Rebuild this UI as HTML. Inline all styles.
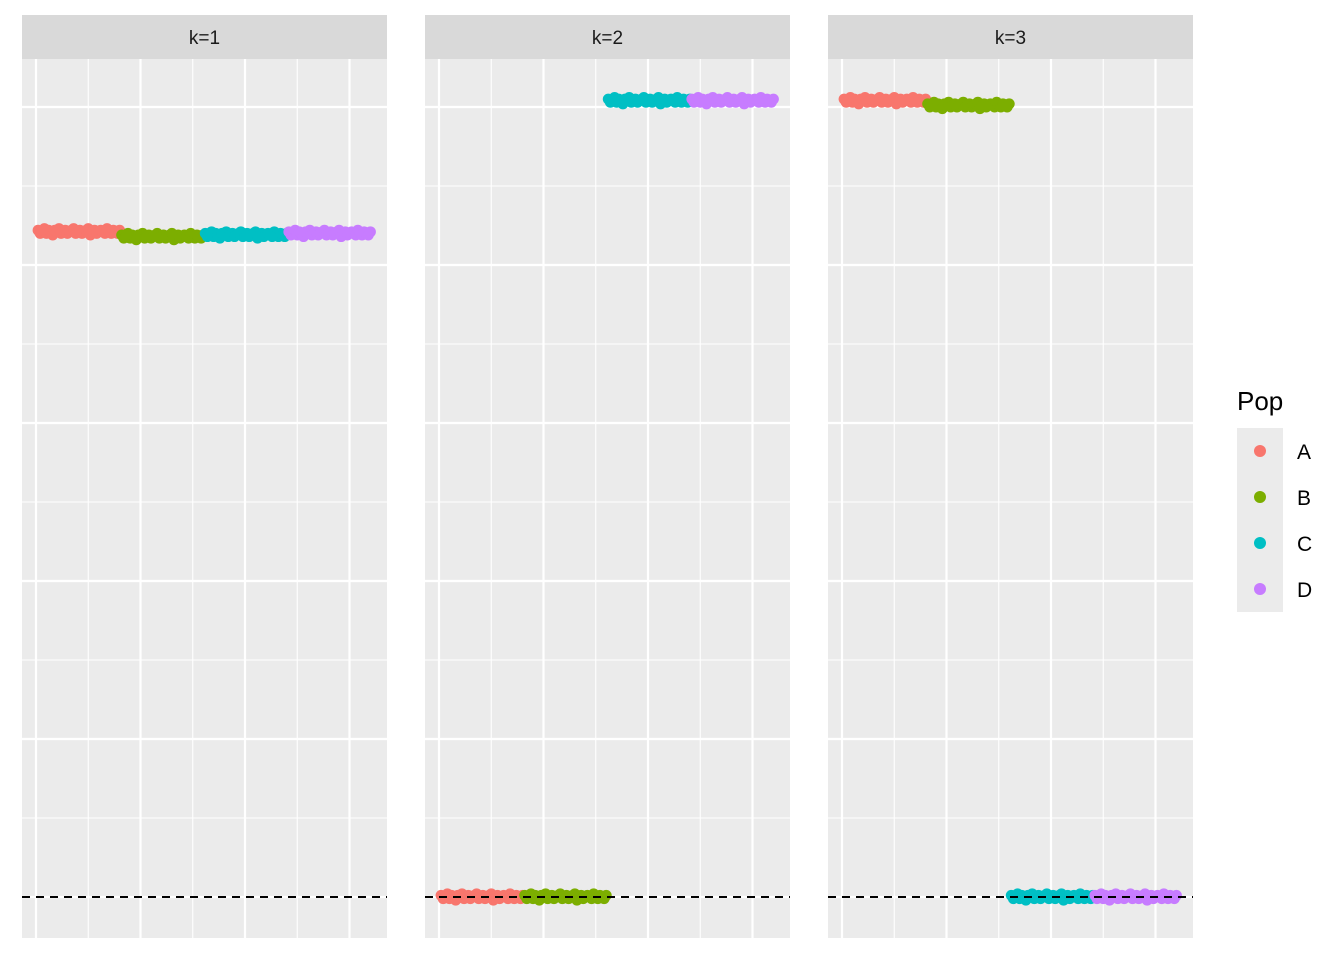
<!DOCTYPE html>
<html><head><meta charset="utf-8"><style>
body{margin:0;background:#fff;font-family:"Liberation Sans",sans-serif;}
</style></head><body>
<svg id="chart" width="1344" height="960" xmlns="http://www.w3.org/2000/svg" font-family="Liberation Sans, sans-serif"></svg>
<script>
const facets = ["k=1","k=2","k=3"];
const pops = ["A","B","C","D"];
const popColors = ["#F8766D","#7CAE00","#00BFC4","#C77CFF"];
const levelsK1 = [4.21, 4.18, 4.19, 4.20];
const levelsK2 = [0.00, 0.00, 5.04, 5.04];
const levelsK3 = [5.04, 5.01, 0.00, 0.00];
const jitter = [0.01,-0.01,0.00,0.02,-0.01,0.01,0.00,-0.02,0.01,0.00,0.02,-0.01,0.00,0.01,-0.01,0.00,0.01,0.02,-0.01,0.00,0.01,-0.01,0.00,0.01,0.02,-0.02,0.00,0.01,-0.01,0.00,0.01,0.00,-0.01,0.02,0.00,-0.01,0.01,0.00,-0.01,0.01];
const perPop = 40;
const xTicks = [0,50,100,150];
const xMinor = [25,75,125];
const yTicks = [0,1,2,3,4,5];
const yMinor = [0.5,1.5,2.5,3.5,4.5];
const levels = [levelsK1, levelsK2, levelsK3];

const svgEl = document.getElementById('chart');
const NS = "http://www.w3.org/2000/svg";
function mk(tag, attrs, parent){const e=document.createElementNS(NS,tag);for(const k in attrs)e.setAttribute(k,attrs[k]);(parent||svgEl).appendChild(e);return e;}
const panelX = [22,425,828], panelW = 365, plotTop = 59, plotBottom = 938;
const yScale = v => 897 - v*158;
const xScale = (p, v) => panelX[p] + 14 + v*2.09;

facets.forEach((f,p)=>{
  const g = mk('g',{});
  
  
  const strip = mk('rect',{x:panelX[p],y:15,width:panelW,height:44,fill:'#D9D9D9'},g);
  
  
  const st = mk('text',{x:panelX[p]+panelW/2,y:44,'text-anchor':'middle','font-size':19,fill:'#1A1A1A'},g);
  st.textContent=f;
  
  
  const bg = mk('rect',{x:panelX[p],y:plotTop,width:panelW,height:plotBottom-plotTop,fill:'#EBEBEB'},g);
  
  
  yMinor.forEach(v=>mk('line',{x1:panelX[p],x2:panelX[p]+panelW,y1:yScale(v),y2:yScale(v),stroke:'#fff','stroke-width':1.1},g));
  xMinor.forEach(v=>mk('line',{x1:xScale(p,v),x2:xScale(p,v),y1:plotTop,y2:plotBottom,stroke:'#fff','stroke-width':1.1},g));
  yTicks.forEach(v=>mk('line',{x1:panelX[p],x2:panelX[p]+panelW,y1:yScale(v),y2:yScale(v),stroke:'#fff','stroke-width':2.2},g));
  xTicks.forEach(v=>mk('line',{x1:xScale(p,v),x2:xScale(p,v),y1:plotTop,y2:plotBottom,stroke:'#fff','stroke-width':2.2},g));
  pops.forEach((pop,i)=>{
    for(let j=0;j<perPop;j++){
      const idx = i*perPop + j + 1;
      const c = mk('circle',{cx:xScale(p,idx),cy:yScale(levels[p][i]+jitter[j]),r:5.5,fill:popColors[i]},g);
      
      
    }
  });
  const dl = mk('line',{x1:panelX[p],x2:panelX[p]+panelW,y1:yScale(0),y2:yScale(0),stroke:'#000','stroke-width':2,'stroke-dasharray':'8,6'},g);
  
  
});

const lg = mk('g',{});


const lt = mk('text',{x:1237,y:410,'font-size':26,fill:'#000'},lg);
lt.textContent='Pop';


pops.forEach((pop,i)=>{
  const y = 451 + i*46;
  const e = mk('g',{},lg);
  
  
  mk('rect',{x:1237,y:y-23,width:46,height:46,fill:'#EBEBEB'},e);
  mk('circle',{cx:1260,cy:y,r:6,fill:popColors[i]},e);
  const t = mk('text',{x:1297,y:y+8,'font-size':21,fill:'#000'},e);
  t.textContent=pop;
});
</script>
</body></html>
